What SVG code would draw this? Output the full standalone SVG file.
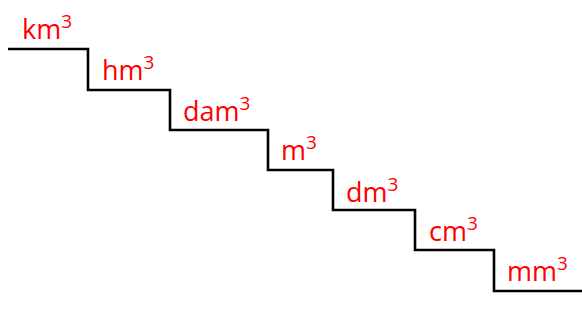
<svg xmlns="http://www.w3.org/2000/svg" width="582" height="330" viewBox="0 0 582 330">
<style>
.stair{fill:none;stroke:#000;stroke-width:2.6;stroke-linejoin:miter}
.u{font-family:"Open Sans","Liberation Sans",sans-serif;font-size:27px;fill:#ff0000}
.s{font-size:19px}
</style>
<rect width="582" height="330" fill="#fff"/>
<g id="staircase">
<path class="stair" d="M8 49 H88 V90 H170 V130 H268 V170 H333 V210 H415 V250 H494 V291 H582"/>
</g>
<g id="km3"><text class="u" x="22" y="39">km<tspan class="s" dy="-11">3</tspan></text></g>
<g id="hm3"><text class="u" x="102" y="80">hm<tspan class="s" dy="-11">3</tspan></text></g>
<g id="dam3"><text class="u" x="183" y="120.5">dam<tspan class="s" dy="-11">3</tspan></text></g>
<g id="m3"><text class="u" x="281" y="160">m<tspan class="s" dy="-11">3</tspan></text></g>
<g id="dm3"><text class="u" x="346" y="201.5">dm<tspan class="s" dy="-11">3</tspan></text></g>
<g id="cm3"><text class="u" x="429" y="241">cm<tspan class="s" dy="-11">3</tspan></text></g>
<g id="mm3"><text class="u" x="507" y="280.5">mm<tspan class="s" dy="-11">3</tspan></text></g>
</svg>
